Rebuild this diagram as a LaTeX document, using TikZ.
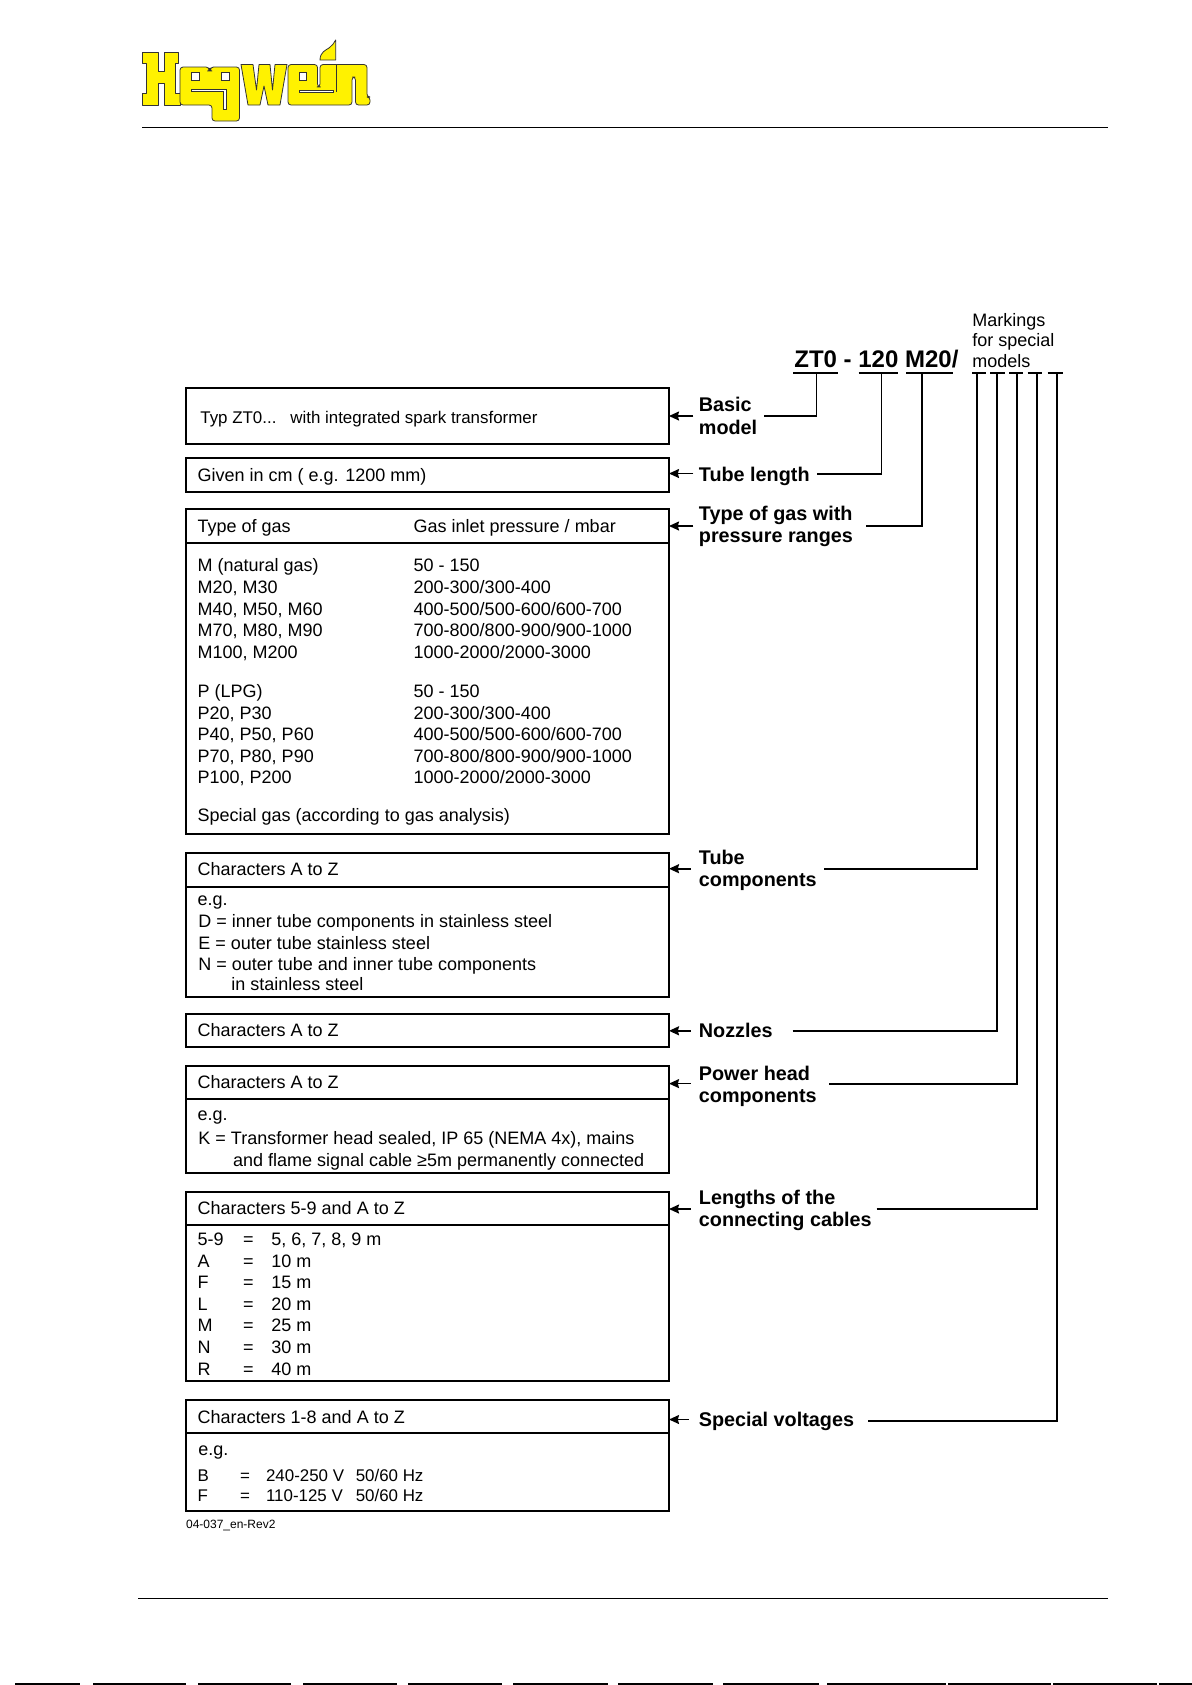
\documentclass[tikz,border=0pt]{standalone}
\usepackage{fontspec}
\setmainfont{Liberation Sans}
\usetikzlibrary{arrows.meta}

\begin{document}
\begin{tikzpicture}[x=0.5bp,y=-0.5bp,
    infobox/.style={draw,line width=1bp,anchor=north west,inner sep=0,outer sep=0,minimum width=241.75bp},
    bodytext/.style={anchor=base west,inner sep=0,font=\fontsize{9bp}{11bp}\selectfont},
    smalltext/.style={anchor=base west,inner sep=0,font=\fontsize{8.45bp}{10bp}\selectfont},
    boldtext/.style={anchor=base west,inner sep=0,font=\fontsize{9.9bp}{12bp}\selectfont\bfseries},
    rule/.style={line width=1bp},
    leader/.style={line width=1bp},
    pointer/.style={-{Stealth[length=5bp,width=4.5bp,inset=0.6bp]},line width=0.8bp},
    logoshape/.style={fill=yellow,draw=black!80,line width=0.4bp,line join=round},
    logoslit/.style={fill=white,draw=black!80,line width=0.4bp}]
    \useasboundingbox (0,0) rectangle (1192,1685);

    % page rules
    \draw[line width=0.7bp] (142,127.3) -- (1108,127.3);
    \draw[line width=0.7bp] (138,1598.5) -- (1108,1598.5);
    \foreach \xa/\xb in {15/80,93/186,198/291,303/397,408/502,513/608,618/713,723/819,827/946,948/1051,1053/1157,1159/1192}
        \draw[line width=0.8bp] (\xa,1684) -- (\xb,1684);

    % logo
    \draw[logoshape] (142.3,52.5) -- (158,52.5) -- (158,71) -- (164,71) -- (164,52.5) -- (178.7,52.5)
        -- (178.7,63) -- (175.5,63) -- (175.5,93) -- (180,93) -- (180,105) -- (164,105) -- (164,83)
        -- (158,83) -- (158,105) -- (142.3,105) -- (142.3,93) -- (146,93) -- (146,63) -- (142.3,63) -- cycle;
    \draw[logoshape,rounded corners=1.5bp] (180,67) -- (209,67) -- (209,71) -- (210.5,71) -- (210.5,67)
        -- (239.5,67) -- (239.5,121) -- (212,121) -- (212,105) -- (180,105) -- cycle;
    \draw[logoslit] (191.5,72.5) rectangle (199.7,80);
    \draw[logoslit] (221,72.5) rectangle (229.7,80);
    \draw[logoslit] (191.5,89) -- (226,89) -- (226,109) -- (223.5,109) -- (223.5,91) -- (191.5,91) -- cycle;
    \draw[logoshape] (241,64.5) -- (253,64.5) -- (256.5,90) -- (259,64.5) -- (270,64.5) -- (272.5,90) -- (275,64.5)
        -- (287,64.5) -- (280,105) -- (268,105) -- (264,86) -- (260,105) -- (248,105) -- cycle;
    \draw[logoshape,rounded corners=1.5bp] (288,64.5) -- (317.5,64.5) -- (317.5,87) -- (320,87) -- (320,64.5)
        -- (367,64.5) -- (367,97) -- (370,97) -- (370,105) -- (355.5,105) -- (355.5,77) -- (352,77) -- (352,105)
        -- (288,105) -- cycle;
    \draw[logoslit] (299,72) rectangle (306.7,80);
    \draw[logoslit] (299,90.5) rectangle (333,92.8);
    \draw[logoshape] (336,64.5) -- (336,92);
    \draw[logoshape] (320,60) .. controls (320,52) and (326,50) .. (329,48)
        .. controls (332,46) and (334,43) .. (335.7,40) -- (335.7,60) -- cycle;

    % boxes on the left
    \foreach \bname/\btop/\bbot in {boxBasic/388.3/444.3,boxLength/458.3/492.3,boxGas/509.3/834,
        boxTube/853.3/996.7,boxNozzle/1014/1047.3,boxPower/1065.7/1172.7,boxCable/1191.7/1381,boxVolt/1399.5/1511}
        \node[infobox,minimum height={(\bbot-\btop)*0.5bp}] (\bname) at (185.5,\btop) {};
    \foreach \bname/\ydiv in {boxGas/543.3,boxTube/886.7,boxPower/1099.3,boxCable/1225,boxVolt/1433}
        \draw[rule] (\bname.west |- 0,\ydiv) -- (\bname.east |- 0,\ydiv);

    % box texts
    \node[smalltext] (typTxt) at (200,423.3) {Typ ZT0...};
    \node[smalltext] (sparkTxt) at (290,423.3) {with integrated spark transformer};
    \node[bodytext] (lengthTxt) at (197.3,481.7) {Given in cm ( e.g. 1200 mm)};
    \node[bodytext] (gasHead) at (197.3,532.3) {Type of gas};
    \node[bodytext] (pressHead) at (413.3,532.3) {Gas inlet pressure / mbar};
    \foreach \ypos/\txtA/\txtB [count=\i] in {571.7/{M (natural gas)}/{50 - 150},593.3/{M20, M30}/{200-300/300-400},
        615/{M40, M50, M60}/{400-500/500-600/600-700},636.7/{M70, M80, M90}/{700-800/800-900/900-1000},
        658.3/{M100, M200}/{1000-2000/2000-3000},697.7/{P (LPG)}/{50 - 150},719/{P20, P30}/{200-300/300-400},
        740.7/{P40, P50, P60}/{400-500/500-600/600-700},762.3/{P70, P80, P90}/{700-800/800-900/900-1000},
        783.7/{P100, P200}/{1000-2000/2000-3000}} {
        \node[bodytext] (gasRow\i) at (197.3,\ypos) {\txtA};
        \node[bodytext] (pressRow\i) at (413.3,\ypos) {\txtB};
    }
    \node[bodytext] (specialTxt) at (197.3,821) {Special gas (according to gas analysis)};

    \node[bodytext] (tubeHead) at (197.3,875) {Characters A to Z};
    \node[bodytext] (tubeEg) at (197.3,905) {e.g.};
    \node[bodytext] (tubeD) at (198,927.3) {D = inner tube components in stainless steel};
    \node[bodytext] (tubeE) at (198,949) {E = outer tube stainless steel};
    \node[bodytext] (tubeN) at (198,970) {N = outer tube and inner tube components};
    \node[bodytext] (tubeNb) at (231,990.7) {in stainless steel};
    \node[bodytext] (nozzleHead) at (197.3,1036.7) {Characters A to Z};
    \node[bodytext] (powerHead) at (197.3,1088.3) {Characters A to Z};
    \node[bodytext] (powerEg) at (197.3,1120) {e.g.};
    \node[bodytext] (powerK) at (198,1144) {K = Transformer head sealed, IP 65 (NEMA 4x), mains};
    \node[bodytext] (powerKb) at (232.7,1166) {and flame signal cable ≥5m permanently connected};

    \node[bodytext] (cableHead) at (197.3,1214) {Characters 5-9 and A to Z};
    \foreach \ypos/\txtA/\txtB [count=\i] in {1245.7/5-9/{5, 6, 7, 8, 9 m},1267.3/A/10 m,1288.7/F/15 m,
        1310/L/20 m,1331.7/M/25 m,1353.3/N/30 m,1375/R/40 m} {
        \node[bodytext] (cableKey\i) at (197.3,\ypos) {\txtA};
        \node[bodytext] (cableEq\i) at (242.7,\ypos) {=};
        \node[bodytext] (cableVal\i) at (271,\ypos) {\txtB};
    }
    \node[bodytext] (voltHead) at (197.3,1423.5) {Characters 1-8 and A to Z};
    \node[bodytext] (voltEg) at (198,1455) {e.g.};
    \foreach \ypos/\txtA/\txtB [count=\i] in {1481/B/240-250 V,1501/F/110-125 V} {
        \node[smalltext] (voltKey\i) at (197.3,\ypos) {\txtA};
        \node[smalltext] (voltEq\i) at (239.6,\ypos) {=};
        \node[smalltext] (voltVal\i) at (265.7,\ypos) {\txtB};
        \node[smalltext] (voltHz\i) at (355.4,\ypos) {50/60 Hz};
    }
    \node[bodytext,font=\fontsize{6bp}{7bp}\selectfont] (revTxt) at (185.7,1528.5) {04-037\_en-Rev2};

    % code at the top
    \node[anchor=base west,inner sep=0,font=\fontsize{12bp}{14bp}\selectfont\bfseries] (codeTxt) at (794,367.3) {ZT0 - 120 M20/};
    \node[bodytext] (markA) at (972,326) {Markings};
    \node[bodytext] (markB) at (972,346.7) {for special};
    \node[bodytext] (markC) at (972,367.3) {models};
    \foreach \xa/\xb in {793.3/837.7,858.7/898,906/952.7,972.3/986,990/1004.7,1009/1023.3,1027.7/1042,1047.7/1062.7}
        \draw[rule] (\xa,373.3) -- (\xb,373.3);

    % labels in the middle
    \node[boldtext] (basicA) at (698.5,411.7) {Basic};
    \node[boldtext] (basicB) at (698.5,434.5) {model};
    \node[boldtext] (lengthLbl) at (698.5,481.7) {Tube length};
    \node[boldtext] (gasA) at (698.5,520) {Type of gas with};
    \node[boldtext] (gasB) at (698.5,542.3) {pressure ranges};
    \node[boldtext] (tubeA) at (698.5,864.3) {Tube};
    \node[boldtext] (tubeB) at (698.5,886.5) {components};
    \node[boldtext] (nozzleLbl) at (698.5,1037) {Nozzles};
    \node[boldtext] (powerA) at (698.5,1080.3) {Power head};
    \node[boldtext] (powerB) at (698.5,1102.3) {components};
    \node[boldtext] (cableA) at (698.5,1204) {Lengths of the};
    \node[boldtext] (cableB) at (698.5,1226.8) {connecting cables};
    \node[boldtext] (voltLbl) at (698.5,1426) {Special voltages};

    % arrows to the boxes
    \foreach \bname/\ytail/\xtail in {boxBasic/416/693.3,boxLength/473.5/693.3,boxGas/526/693.3,boxTube/868.7/690.7,
        boxNozzle/1030.8/690.7,boxPower/1083.6/690.7,boxCable/1209/690.7,boxVolt/1419.5/688.6} {
        \coordinate (\bname-tail) at (\xtail,\ytail);
        \draw[pointer] (\bname-tail) -- (\bname.east |- \bname-tail);
    }

    % leaders up to the code
    \foreach \lname/\ystart/\xstart/\xmark/\lw in {basic/416/764/816.3/0.65bp,length/474/817.3/881.3/0.65bp,gas/526/866/922/0.85bp,
        tube/868.7/824/977.3/1bp,nozzle/1030.8/792.7/997.3/1bp,power/1083.8/829/1016.7/1bp,cable/1208.7/876.7/1036.7/1bp,volt/1420.5/868.3/1056.7/1bp} {
        \coordinate (\lname-start) at (\xstart,\ystart);
        \coordinate (\lname-mark) at (\xmark,373.3);
        \draw[leader,line width=\lw] (\lname-start) -| (\lname-mark);
    }
\end{tikzpicture}
\end{document}
